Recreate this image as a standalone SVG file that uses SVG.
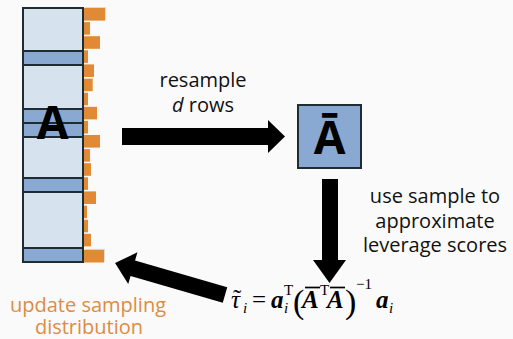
<svg xmlns="http://www.w3.org/2000/svg" width="513" height="339" viewBox="0 0 513 339">
  <defs>
    <style>
      .cell-light { fill: #d7e2ef; stroke: #1e2d32; stroke-width: 2; }
      .cell-dark { fill: #8aa9d2; stroke: #1e2d32; stroke-width: 2; }
      .bar { fill: #e08a35; }
      .bar-shadow { fill: #b9b9b9; opacity: 0.45; }
      .arrow { fill: #000; }
      .label { font-family: "Open Sans", "DejaVu Sans", sans-serif; font-size: 20px; fill: #111; text-anchor: middle; }
      .orange { fill: #dc8c45; }
      .big { font-family: "Open Sans", "Liberation Sans", sans-serif; font-weight: bold; font-size: 46px; fill: #000; text-anchor: middle; }
      .math { font-family: "Liberation Serif", "DejaVu Serif", serif; font-size: 25px; fill: #000; }
      .mi { font-style: italic; }
      .mb { font-style: italic; font-weight: bold; }
      .sub { font-size: 15px; }
      .paren { font-size: 34px; }
      .bar-line { stroke: #000; stroke-width: 1.7; }
    </style>
  </defs>

  <rect width="513" height="339" fill="#fafafa"/>

  <!-- matrix A with its row blocks -->
  <g id="matrix-A">
    <rect class="cell-light" x="23" y="8" width="60" height="43"/>
    <rect class="cell-dark" x="23" y="51" width="60" height="14"/>
    <rect class="cell-light" x="23" y="65" width="60" height="44"/>
    <rect class="cell-dark" x="23" y="109" width="60" height="14"/>
    <rect class="cell-dark" x="23" y="123" width="60" height="14"/>
    <rect class="cell-light" x="23" y="137" width="60" height="41"/>
    <rect class="cell-dark" x="23" y="178" width="60" height="14"/>
    <rect class="cell-light" x="23" y="192" width="60" height="56"/>
    <rect class="cell-dark" x="23" y="248" width="60" height="14"/>
    <text class="big" x="52.5" y="139">A</text>
  </g>

  <!-- sampling distribution bars beside the rows -->
  <g id="distribution">
    <rect class="bar-shadow" x="85" y="7" width="21" height="13"/>
    <rect class="bar" x="84" y="8" width="21" height="12.6"/>
    <rect class="bar" x="84" y="22.1" width="6" height="12.6"/>
    <rect class="bar" x="84" y="36.2" width="16" height="12.6"/>
    <rect class="bar" x="84" y="50.3" width="4" height="12.6"/>
    <rect class="bar" x="84" y="64.4" width="10" height="12.6"/>
    <rect class="bar" x="84" y="78.6" width="8.7" height="12.6"/>
    <rect class="bar" x="84" y="92.7" width="4" height="12.6"/>
    <rect class="bar" x="84" y="106.8" width="13" height="12.6"/>
    <rect class="bar" x="84" y="120.9" width="4" height="12.6"/>
    <rect class="bar" x="84" y="135" width="16" height="12.6"/>
    <rect class="bar" x="84" y="149.1" width="6" height="12.6"/>
    <rect class="bar" x="84" y="163.2" width="7" height="12.6"/>
    <rect class="bar" x="84" y="177.3" width="4" height="12.6"/>
    <rect class="bar" x="84" y="191.4" width="12" height="12.6"/>
    <rect class="bar" x="84" y="205.6" width="3" height="12.6"/>
    <rect class="bar" x="84" y="219.7" width="4" height="12.6"/>
    <rect class="bar" x="84" y="233.8" width="7" height="12.6"/>
    <rect class="bar-shadow" x="85" y="248.9" width="20" height="13"/>
    <rect class="bar" x="84" y="249.9" width="20" height="12.6"/>
  </g>

  <!-- sampled matrix A-bar -->
  <g id="matrix-Abar">
    <rect class="cell-dark" x="298" y="105" width="63" height="63"/>
    <text class="big" x="329.5" y="154">Ā</text>
  </g>

  <!-- connectors -->
  <g id="connectors">
    <polygon class="arrow" points="122,128 268,128 268,120 285,136.5 268,153 268,145 122,145"/>
    <polygon class="arrow" points="322,179 338,179 338,260 346,260 329.5,283 313,260 322,260"/>
    <polygon class="arrow" transform="translate(225,295) rotate(196.2)" points="0,-8 96,-8 96,-16.5 114.5,0 96,16.5 96,8 0,8"/>
  </g>

  <!-- step labels -->
  <g id="label-resample">
    <text class="label" x="203" y="87">resample</text>
    <text class="label" x="203" y="112"><tspan font-style="italic">d</tspan> rows</text>
  </g>

  <g id="label-approximate">
    <text class="label" x="435" y="203">use sample to</text>
    <text class="label" x="435" y="228">approximate</text>
    <text class="label" x="435" y="252">leverage scores</text>
  </g>

  <g id="label-update">
    <text class="label orange" x="88" y="312">update sampling</text>
    <text class="label orange" x="89" y="334">distribution</text>
  </g>

  <!-- leverage score estimate formula -->
  <g id="formula">
    <line class="bar-line" x1="305" y1="287.5" x2="320" y2="287.5"/>
    <line class="bar-line" x1="330" y1="287.5" x2="345" y2="287.5"/>
    <text class="math"><tspan class="mi" x="231" y="308">τ</tspan><tspan x="233" y="307">˜</tspan><tspan class="mi sub" x="243" y="313">i</tspan><tspan x="252" y="308">=</tspan><tspan class="mb" x="271" y="308">a</tspan><tspan class="sub" x="284" y="295">T</tspan><tspan class="mi sub" x="284" y="313">i</tspan><tspan class="paren" x="293" y="313">(</tspan><tspan class="mb" x="302" y="308">A</tspan><tspan class="sub" x="320" y="295">T</tspan><tspan class="mb" x="327" y="308">A</tspan><tspan class="paren" x="345" y="313">)</tspan><tspan class="sub" x="356" y="289">−1</tspan><tspan class="mb" x="376" y="308">a</tspan><tspan class="mi sub" x="389" y="313">i</tspan></text>
  </g>
</svg>
